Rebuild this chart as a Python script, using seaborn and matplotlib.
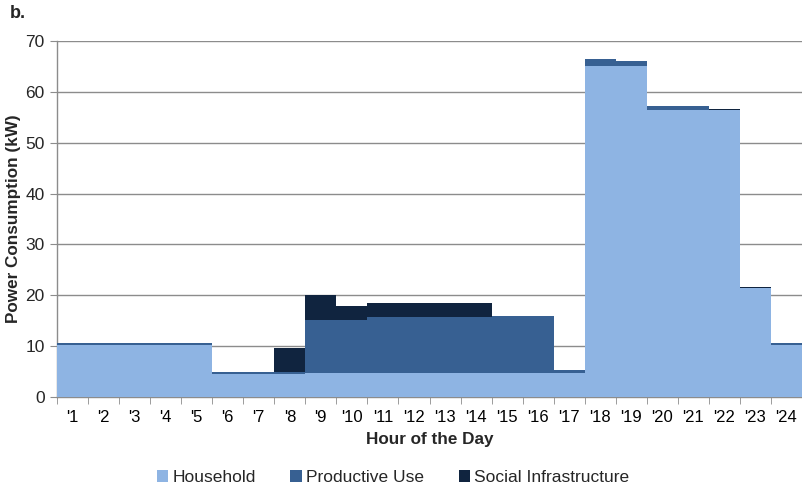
import matplotlib
matplotlib.use("Agg")
import matplotlib.pyplot as plt
from matplotlib.patches import Patch
from matplotlib.ticker import FixedLocator
import numpy as np
import pandas as pd
import seaborn as sns

# Hourly load by sector (kW)
hours = ["'%d" % h for h in range(1, 25)]
household = [10.3, 10.3, 10.3, 10.3, 10.3, 4.6, 4.6, 4.6, 4.65, 4.65,
             4.65, 4.65, 4.65, 4.65, 4.65, 4.65, 4.7, 65.1, 65.1, 56.5,
             56.5, 56.5, 21.5, 10.3]
productive = [0.25, 0.25, 0.25, 0.25, 0.25, 0.25, 0.25, 0.25, 10.45, 10.45,
              11.05, 11.05, 11.05, 11.05, 11.2, 11.2, 0.7, 1.4, 0.9, 0.7,
              0.7, 0.0, 0.0, 0.25]
social = [0.0, 0.0, 0.0, 0.0, 0.0, 0.0, 0.0, 4.85, 4.9, 2.8,
          2.8, 2.8, 2.8, 2.8, 0.0, 0.0, 0.0, 0.0, 0.0, 0.0,
          0.0, 0.15, 0.15, 0.0]

labels = ["Household", "Productive Use", "Social Infrastructure"]
colors = ["#8EB4E3", "#376092", "#10243F"]

df = pd.DataFrame({"hour": hours, "household": household,
                   "productive": productive, "social": social})
df["hp"] = df["household"] + df["productive"]
df["total"] = df["hp"] + df["social"]

sns.set_style("white")
plt.rcParams["font.family"] = ["Liberation Sans", "DejaVu Sans"]

fig = plt.figure(figsize=(8.02, 4.86), dpi=100)
ax = fig.add_axes([0.0711, 0.183, 0.9289, 0.7326])

# stacked look: draw cumulative totals from the top layer down
for col, c in zip(["total", "hp", "household"], colors[::-1]):
    sns.barplot(data=df, x="hour", y=col, color=c, saturation=1,
                width=1.0, linewidth=0, ax=ax, zorder=3)

ax.set_xlim(-0.5, 23.5)
ax.set_ylim(0, 70)
ax.set_yticks(np.arange(0, 71, 10))
ax.yaxis.grid(True, color="#8C8C8C", linewidth=1.0, zorder=0)
ax.set_axisbelow(True)

ax.xaxis.set_minor_locator(FixedLocator(np.arange(-0.5, 24, 1)))
ax.tick_params(axis="x", which="major", length=0, labelsize=12, pad=9,
               colors="black")
ax.tick_params(axis="x", which="minor", length=5, color="#8C8C8C",
               direction="out", bottom=True)
ax.tick_params(axis="y", length=5, color="#8C8C8C", labelsize=12.5,
               direction="out", left=True, pad=4)

for s in ["top", "right"]:
    ax.spines[s].set_visible(False)
for s in ["left", "bottom"]:
    ax.spines[s].set_color("#8C8C8C")
    ax.spines[s].set_linewidth(1.0)

ax.set_xlabel("Hour of the Day", fontsize=12.3, fontweight="bold", labelpad=5)
ax.set_ylabel("Power Consumption (kW)", fontsize=12.3, fontweight="bold",
              labelpad=3)

fig.text(0.012, 0.972, "b.", fontsize=13, fontweight="bold", va="center")

handles = [Patch(facecolor=c, edgecolor="none") for c in colors]
fig.legend(handles, labels, loc="center", bbox_to_anchor=(0.49, 0.017),
           ncol=3, frameon=False, fontsize=12.5, handlelength=0.65,
           handleheight=0.65, handletextpad=0.25, columnspacing=2.0)

fig.savefig("out.png", dpi=100)
